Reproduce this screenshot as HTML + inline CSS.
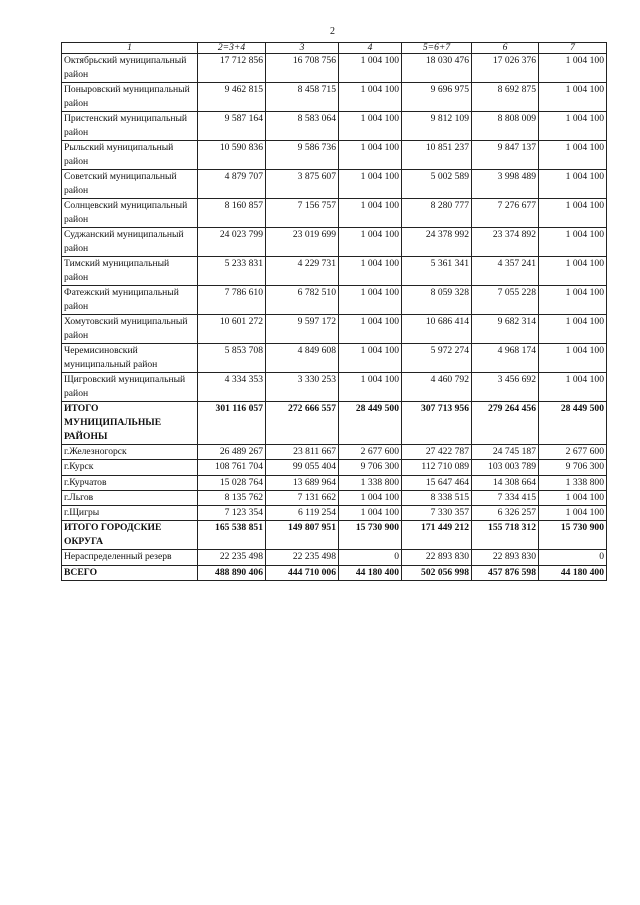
<!DOCTYPE html>
<html><head><meta charset="utf-8"><style>
body{margin:0;background:#fff;width:640px;height:905px;position:relative;font-family:"Liberation Serif","DejaVu Serif",serif;color:#111}
.pn{position:absolute;left:330px;top:26px;font-size:10px}
table{position:absolute;left:61px;top:42px;border-collapse:collapse;table-layout:fixed;font-size:9.6px;line-height:14px}
td{border:1px solid #222;padding:0 2px;vertical-align:top;overflow:hidden}
td.n{text-align:right}
tr.h td{text-align:center;font-style:italic;height:10px;line-height:10px}
tr.r td{height:26.6px}
tr.c td{height:14.3px}
tr.b td{font-weight:bold}
</style></head><body>
<div class="pn">2</div>
<table>
<colgroup><col style="width:136px"><col style="width:68px"><col style="width:73px"><col style="width:63px"><col style="width:70px"><col style="width:67px"><col style="width:68px"></colgroup>
<tr class="h"><td>1</td><td>2=3+4</td><td>3</td><td>4</td><td>5=6+7</td><td>6</td><td>7</td></tr>
<tr class="r"><td>Октябрьский муниципальный район</td><td class="n">17 712 856</td><td class="n">16 708 756</td><td class="n">1 004 100</td><td class="n">18 030 476</td><td class="n">17 026 376</td><td class="n">1 004 100</td></tr>
<tr class="r"><td>Поныровский муниципальный район</td><td class="n">9 462 815</td><td class="n">8 458 715</td><td class="n">1 004 100</td><td class="n">9 696 975</td><td class="n">8 692 875</td><td class="n">1 004 100</td></tr>
<tr class="r"><td>Пристенский муниципальный район</td><td class="n">9 587 164</td><td class="n">8 583 064</td><td class="n">1 004 100</td><td class="n">9 812 109</td><td class="n">8 808 009</td><td class="n">1 004 100</td></tr>
<tr class="r"><td>Рыльский муниципальный район</td><td class="n">10 590 836</td><td class="n">9 586 736</td><td class="n">1 004 100</td><td class="n">10 851 237</td><td class="n">9 847 137</td><td class="n">1 004 100</td></tr>
<tr class="r"><td>Советский муниципальный район</td><td class="n">4 879 707</td><td class="n">3 875 607</td><td class="n">1 004 100</td><td class="n">5 002 589</td><td class="n">3 998 489</td><td class="n">1 004 100</td></tr>
<tr class="r"><td>Солнцевский муниципальный район</td><td class="n">8 160 857</td><td class="n">7 156 757</td><td class="n">1 004 100</td><td class="n">8 280 777</td><td class="n">7 276 677</td><td class="n">1 004 100</td></tr>
<tr class="r"><td>Суджанский муниципальный район</td><td class="n">24 023 799</td><td class="n">23 019 699</td><td class="n">1 004 100</td><td class="n">24 378 992</td><td class="n">23 374 892</td><td class="n">1 004 100</td></tr>
<tr class="r"><td>Тимский муниципальный район</td><td class="n">5 233 831</td><td class="n">4 229 731</td><td class="n">1 004 100</td><td class="n">5 361 341</td><td class="n">4 357 241</td><td class="n">1 004 100</td></tr>
<tr class="r"><td>Фатежский муниципальный район</td><td class="n">7 786 610</td><td class="n">6 782 510</td><td class="n">1 004 100</td><td class="n">8 059 328</td><td class="n">7 055 228</td><td class="n">1 004 100</td></tr>
<tr class="r"><td>Хомутовский муниципальный район</td><td class="n">10 601 272</td><td class="n">9 597 172</td><td class="n">1 004 100</td><td class="n">10 686 414</td><td class="n">9 682 314</td><td class="n">1 004 100</td></tr>
<tr class="r"><td>Черемисиновский муниципальный район</td><td class="n">5 853 708</td><td class="n">4 849 608</td><td class="n">1 004 100</td><td class="n">5 972 274</td><td class="n">4 968 174</td><td class="n">1 004 100</td></tr>
<tr class="r"><td>Щигровский муниципальный район</td><td class="n">4 334 353</td><td class="n">3 330 253</td><td class="n">1 004 100</td><td class="n">4 460 792</td><td class="n">3 456 692</td><td class="n">1 004 100</td></tr>
<tr class="b"><td style="height:40px">ИТОГО МУНИЦИПАЛЬНЫЕ РАЙОНЫ</td><td class="n">301 116 057</td><td class="n">272 666 557</td><td class="n">28 449 500</td><td class="n">307 713 956</td><td class="n">279 264 456</td><td class="n">28 449 500</td></tr>
<tr class="c"><td>г.Железногорск</td><td class="n">26 489 267</td><td class="n">23 811 667</td><td class="n">2 677 600</td><td class="n">27 422 787</td><td class="n">24 745 187</td><td class="n">2 677 600</td></tr>
<tr class="c"><td>г.Курск</td><td class="n">108 761 704</td><td class="n">99 055 404</td><td class="n">9 706 300</td><td class="n">112 710 089</td><td class="n">103 003 789</td><td class="n">9 706 300</td></tr>
<tr class="c"><td>г.Курчатов</td><td class="n">15 028 764</td><td class="n">13 689 964</td><td class="n">1 338 800</td><td class="n">15 647 464</td><td class="n">14 308 664</td><td class="n">1 338 800</td></tr>
<tr class="c"><td>г.Льгов</td><td class="n">8 135 762</td><td class="n">7 131 662</td><td class="n">1 004 100</td><td class="n">8 338 515</td><td class="n">7 334 415</td><td class="n">1 004 100</td></tr>
<tr class="c"><td>г.Щигры</td><td class="n">7 123 354</td><td class="n">6 119 254</td><td class="n">1 004 100</td><td class="n">7 330 357</td><td class="n">6 326 257</td><td class="n">1 004 100</td></tr>
<tr class="b"><td style="height:28px">ИТОГО ГОРОДСКИЕ ОКРУГА</td><td class="n">165 538 851</td><td class="n">149 807 951</td><td class="n">15 730 900</td><td class="n">171 449 212</td><td class="n">155 718 312</td><td class="n">15 730 900</td></tr>
<tr class="c"><td>Нераспределенный резерв</td><td class="n">22 235 498</td><td class="n">22 235 498</td><td class="n">0</td><td class="n">22 893 830</td><td class="n">22 893 830</td><td class="n">0</td></tr>
<tr class="c b"><td>ВСЕГО</td><td class="n">488 890 406</td><td class="n">444 710 006</td><td class="n">44 180 400</td><td class="n">502 056 998</td><td class="n">457 876 598</td><td class="n">44 180 400</td></tr>
</table>
</body></html>
